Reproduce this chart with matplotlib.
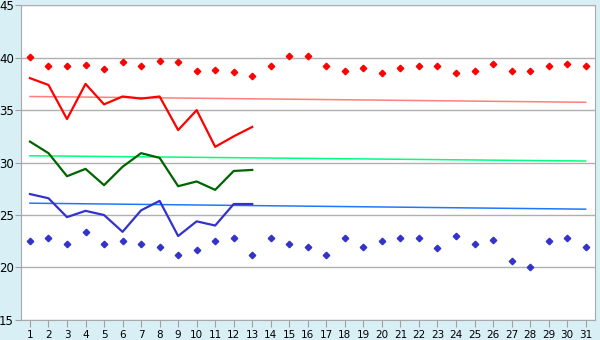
import matplotlib
matplotlib.use('Agg')
import matplotlib.pyplot as plt

days = list(range(1, 32))

# upper / lower point series
red_pts = [40.1, 39.2, 39.2, 39.3, 38.9, 39.6, 39.2, 39.7, 39.6, 38.7,
           38.8, 38.6, 38.3, 39.2, 40.2, 40.2, 39.2, 38.7, 39.0, 38.5,
           39.0, 39.2, 39.2, 38.5, 38.7, 39.4, 38.7, 38.7, 39.2, 39.4, 39.2]
blue_pts = [22.5, 22.8, 22.2, 23.4, 22.2, 22.5, 22.2, 22.0, 21.2, 21.65,
            22.5, 22.8, 21.2, 22.8, 22.2, 22.0, 21.2, 22.8, 22.0, 22.5,
            22.8, 22.8, 21.85, 23.0, 22.2, 22.6, 20.6, 20.0, 22.5, 22.8, 22.0]

# daily lines (first 13 days)
line_days = list(range(1, 14))
red_line = [38.05, 37.4, 34.15, 37.5, 35.55, 36.3, 36.1, 36.3, 33.1, 35.0, 31.5, 32.5, 33.4]
green_line = [32.0, 30.9, 28.7, 29.4, 27.85, 29.6, 30.9, 30.45, 27.75, 28.2, 27.4, 29.2, 29.3]
blue_line = [27.0, 26.6, 24.8, 25.4, 25.0, 23.4, 25.45, 26.35, 23.0, 24.4, 24.0, 26.05, 26.05]

# trend lines (start / end values)
trend_x = [1, 31]
red_trend = [36.3, 35.75]
green_trend = [30.65, 30.15]
blue_trend = [26.13, 25.56]

fig = plt.figure(figsize=(6, 3.4), dpi=100, facecolor='#d9eff6')
ax = fig.add_axes([0.0345, 0.059, 0.957, 0.9256])
ax.set_facecolor('white')

ax.plot(trend_x, red_trend, color='#ff7f7f', lw=1.1)
ax.plot(trend_x, green_trend, color='#00ff7f', lw=1.1)
ax.plot(trend_x, blue_trend, color='#1e78ff', lw=1.1)

ax.plot(line_days, red_line, color='#ff0000', lw=1.6)
ax.plot(line_days, green_line, color='#006400', lw=1.6)
ax.plot(line_days, blue_line, color='#3333cc', lw=1.6)

ax.plot(days, red_pts, ls='none', marker='D', ms=3.3, color='#ff0000', mec='#ff0000')
ax.plot(days, blue_pts, ls='none', marker='D', ms=3.3, color='#3333cc', mec='#3333cc')

ax.set_xlim(0.5, 31.5)
ax.set_ylim(15, 45)
ax.set_xticks(days)
ax.set_xticklabels([str(d) for d in days], fontsize=7.5)
ax.set_yticks(range(15, 50, 5))
ax.tick_params(axis='y', labelsize=8.5, length=4, color='#a0a0a0', pad=1)
ax.tick_params(axis='x', length=5, color='#a0a0a0', pad=2)
ax.yaxis.grid(True, color='#b0b0b0', lw=1)
ax.set_axisbelow(True)
for side in ['left', 'bottom', 'right']:
    ax.spines[side].set_color('#a8a8a8')
ax.spines['top'].set_color('#b0b0b0')

plt.savefig('out.png', dpi=100, facecolor=fig.get_facecolor())
plt.close()
